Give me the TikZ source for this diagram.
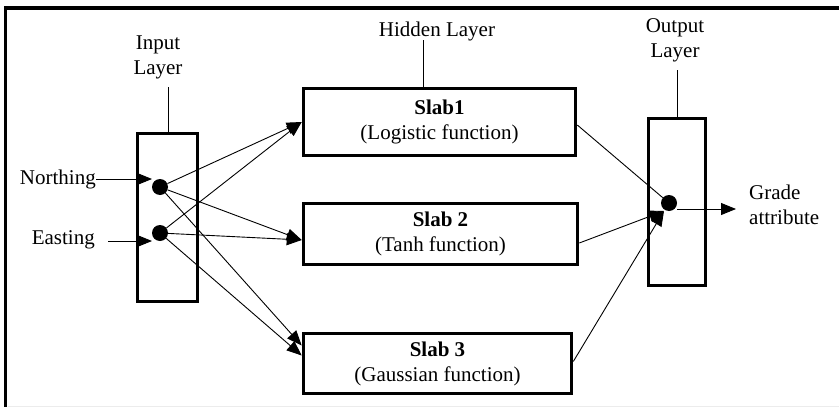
\documentclass[tikz,border=0pt]{standalone}
\usepackage{fontspec}
\setmainfont{Liberation Serif}
\usetikzlibrary{arrows.meta,calc}
\begin{document}
\begin{tikzpicture}[x=1pt,y=-1pt,
  txt/.style={font=\fontsize{21}{25}\selectfont, inner sep=0pt, align=center},
  layerbox/.style={draw, line width=3.6pt, minimum width=#1, inner sep=0pt},
  slabbox/.style={draw, line width=3.6pt, align=center, inner sep=0pt, font=\fontsize{21}{25}\selectfont},
  neuron/.style={circle, fill=black, minimum size=16pt, inner sep=0pt},
  conn/.style={line width=0.9pt},
  arr/.style={conn, -{Triangle[length=15pt,width=12pt]}},
  tag/.style={line width=1pt}
]
\useasboundingbox (0,0) rectangle (839,407);
% frame
\draw[line width=3.5pt, line cap=rect] (5.5,407) -- (5.5,8) -- (839,8);
\draw[gray!15, line width=1pt] (8,406) -- (839,406);

% input layer
\node[layerbox=60pt, minimum height=168pt] (ib) at (167.5,217.5) {};
\node[txt] (il) at (158,57) {Input\\Layer};
\coordinate (ilt) at (168,87);
\draw[tag] (ilt) -- (ilt |- ib.north);
\node[neuron] (nd) at (160,187) {};
\node[neuron] (ed) at (160,233) {};
\node[txt, anchor=east] (nt) at (96,179) {Northing};
\node[txt, anchor=east] (et) at (95,240) {Easting};
\coordinate (ntip) at (152,179);
\coordinate (es) at (108,241);
\coordinate (etip) at (152,241);
\draw[arr] (nt.east |- ntip) -- (ntip);
\draw[arr] (es) -- (etip);

% hidden layer
\node[slabbox, minimum width=272pt, minimum height=67pt] (s1) at (439.5,122) {\textbf{Slab1}\\(Logistic function)};
\node[slabbox, minimum width=274pt, minimum height=61pt] (s2) at (440.5,234) {\textbf{Slab 2}\\(Tanh function)};
\node[slabbox, minimum width=268pt, minimum height=60pt] (s3) at (437.5,363.5) {\textbf{Slab 3}\\(Gaussian function)};
\node[txt] (hl) at (437,31) {Hidden Layer};
\coordinate (hlt) at (423,40);
\draw[tag] (hlt) -- (hlt |- s1.north);

% output layer
\node[layerbox=57pt, minimum height=167pt] (ob) at (677,202) {};
\node[txt] (ol) at (675,40) {Output\\Layer};
\coordinate (olt) at (677,70);
\draw[tag] (olt) -- (ob.north);
\node[neuron] (od) at (669,203) {};
\node[txt, anchor=west, align=left] (ga) at (749,205) {Grade\\attribute};
\coordinate (otip) at (736,209);
\draw[arr] (od.east |- otip) -- (otip);

% input -> hidden
\draw[arr] (nd) -- ($(s1.west)+(0,0)$);
\draw[arr] (ed) -- ($(s1.west)+(0,0)$);
\draw[arr] (nd) -- ($(s2.west)+(0,6)$);
\draw[arr] (ed) -- ($(s2.west)+(0,6)$);
\draw[arr] (nd) -- ($(s3.west)+(0,-18)$);
\draw[arr] (ed) -- ($(s3.west)+(0,-8)$);

% hidden -> output
\coordinate (oin) at (664,211);
\draw[conn] ($(s1.east)+(0,3)$) -- (od);
\draw[arr] ($(s2.east)+(0,9)$) -- (oin);
\draw[arr] ($(s3.east)+(0,-2)$) -- (oin);
\end{tikzpicture}
\end{document}
